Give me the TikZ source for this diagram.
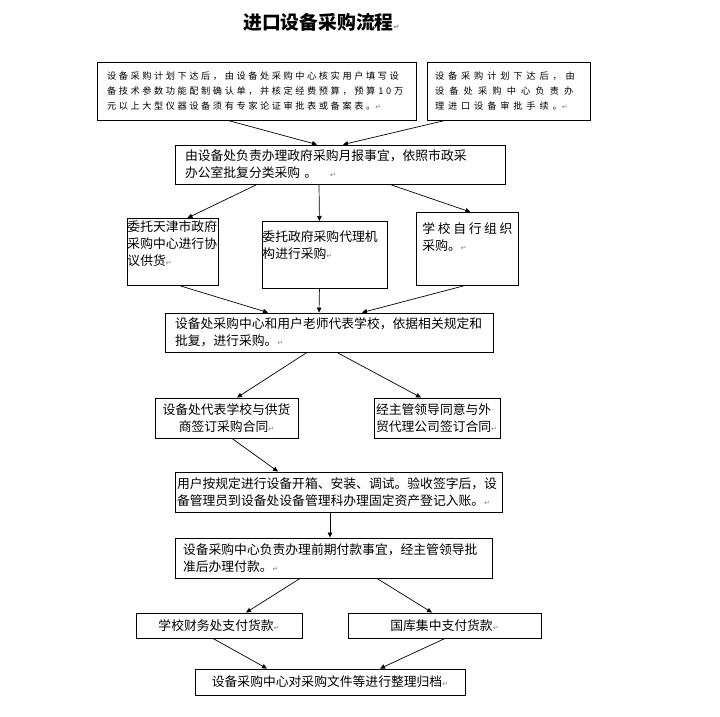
\documentclass[tikz,border=0pt]{standalone}
\usepackage{fontspec}
\setmainfont{Noto Sans CJK SC}
\newfontfamily\smallcjk[LetterSpace=28]{Noto Sans CJK SC}
\newfontfamily\markfont{DejaVu Sans}
\usetikzlibrary{positioning,arrows.meta}

\newcommand{\retmark}{{\markfont\color{gray}\fontsize{7}{7}\selectfont ↵}}

\begin{document}
\begin{tikzpicture}[x=1pt, y=-1pt, ->, >={Triangle[length=5pt,width=4.5pt]}, stage/.style = {draw, line width=0.9pt, inner ysep=2pt, align=left, font=\fontsize{12.8}{17}\selectfont}, note/.style = {stage, font=\smallcjk\fontsize{9.2}{15}\selectfont}, every edge/.append style={line width=0.7pt}]

\useasboundingbox (0,0) rectangle (720,716);

\node[font=\bfseries\fontsize{18.8}{20}\selectfont, anchor=west, inner sep=0pt] (title) at (243,22) {进口设备采购流程\retmark};

\node[note, text width=299pt, inner xsep=10pt, minimum height=58pt] (A) at (256.5,91) {设备采购计划下达后，由设备处采购中心核实用户填写设\\备技术参数功能配制确认单，并核定经费预算，预算 10 万\\元以上大型仪器设备须有专家论证审批表或备案表。\retmark};
\node[note, text width=147pt, inner xsep=8pt, minimum height=58pt] (B) at (508.5,91) {\addfontfeature{LetterSpace=42}设备采购计划下达后，由\\{\addfontfeature{LetterSpace=56}设备处采购中心负责办}\\理进口设备审批手续。\retmark};
\node[stage, text width=310pt, inner xsep=10pt, minimum height=39pt] (C) at (340,164.5) {由设备处负责办理政府采购月报事宜，依照市政采\\办公室批复分类采购 。\quad\retmark};

\node[stage, anchor=north west, inner xsep=0pt, inner ysep=2pt] (D1) at (127,218) {\parbox[t][63pt][t]{91pt}{委托天津市政府\\采购中心进行协\\议供货\retmark}};
\node[stage, anchor=north west, inner xsep=0pt, inner ysep=9pt] (D2) at (262,221) {\parbox[t][49pt][t]{125pt}{委托政府采购代理机\\构进行采购\retmark}};
\node[stage, anchor=north west, inner xsep=6pt, inner ysep=10pt] (D3) at (416,212) {\parbox[t][53pt][t]{90pt}{学 校 自 行 组 织\\采购。\retmark}};

\node[stage, text width=308pt, inner xsep=10pt, minimum height=39pt] (E) at (329,332.5) {设备处采购中心和用户老师代表学校，依据相关规定和\\批复，进行采购。\retmark};

\node[stage, align=center, text width=133pt, inner xsep=5pt, minimum height=40pt] (F1) at (226.5,418) {设备处代表学校与供货\\商签订采购合同\retmark};
\node[stage, text width=122pt, inner xsep=2pt, minimum height=40pt] (F2) at (437,418) {经主管领导同意与外\\贸代理公司签订合同\retmark};

\node[stage, text width=323pt, inner xsep=2pt, minimum height=40pt] (G) at (338.5,492) {用户按规定进行设备开箱、安装、调试。验收签字后，设\\备管理员到设备处设备管理科办理固定资产登记入账。\retmark};
\node[stage, text width=301pt, inner xsep=8pt, minimum height=40pt] (H) at (333.5,558) {设备采购中心负责办理前期付款事宜，经主管领导批\\准后办理付款。\retmark};

\node[stage, align=center, minimum width=166pt, minimum height=25pt] (I1) at (219,625.5) {学校财务处支付货款\retmark};
\node[stage, align=center, minimum width=193pt, minimum height=25pt] (I2) at (444.5,625.5) {国库集中支付货款\retmark};
\node[stage, align=center, minimum width=270pt, minimum height=26pt] (J) at (330,682) {设备采购中心对采购文件等进行整理归档\retmark};

\path
    ([xshift=-28.5pt]A.south) edge ([xshift=-23pt]C.north)
    ([xshift=-63.5pt]B.south) edge ([xshift=3pt]C.north)
    ([xshift=-83pt]C.south) edge ([xshift=14.5pt]D1.north)
    ([xshift=-21pt]C.south) edge ([xshift=-5.5pt]D2.north)
    ([xshift=50pt]C.south) edge ([xshift=3pt]D3.north)
    ([xshift=7.5pt]D1.south) edge ([xshift=-61pt]E.north)
    ([xshift=-5.5pt]D2.south) edge ([xshift=-10pt]E.north)
    ([xshift=-4pt]D3.south) edge ([xshift=33pt]E.north)
    ([xshift=-22pt]E.south) edge ([xshift=10.5pt]F1.north)
    ([xshift=8pt]E.south) edge ([xshift=-16pt]F2.north)
    ([xshift=5.5pt]F1.south) edge ([xshift=-60.5pt]G.north)
    ([xshift=-8.5pt]G.south) edge ([xshift=-3.5pt]H.north)
    ([xshift=-33.5pt]H.south) edge ([xshift=27pt]I1.north)
    ([xshift=43.5pt]H.south) edge ([xshift=-12.5pt]I2.north)
    ([xshift=-6pt]I1.south) edge ([xshift=-63pt]J.north)
    ([xshift=0.5pt]I2.south) edge ([xshift=50pt]J.north);
\end{tikzpicture}
\end{document}
